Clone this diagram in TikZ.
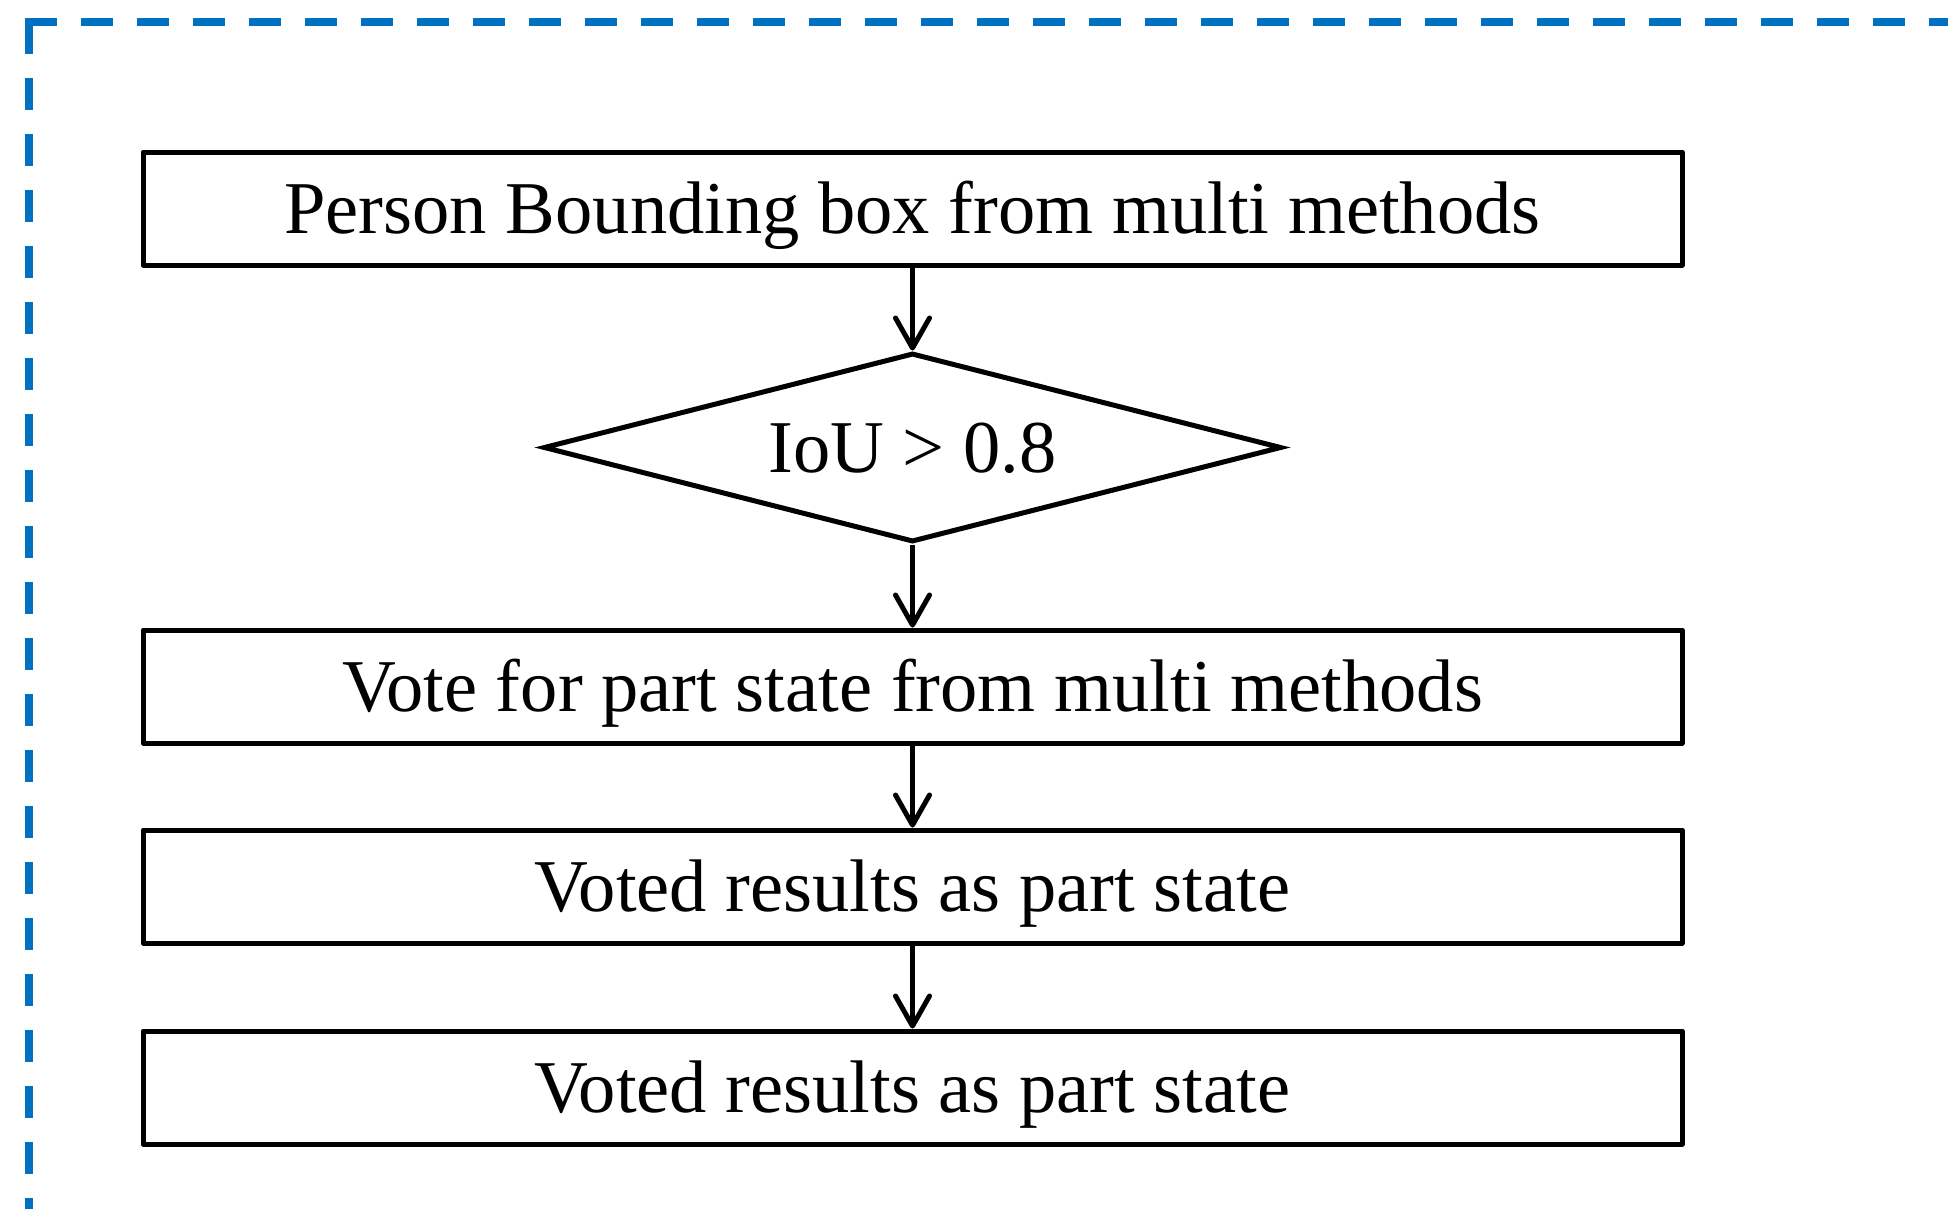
\documentclass[tikz,border=0pt]{standalone}
\usepackage{fontspec}
\setmainfont{Liberation Serif}
\usetikzlibrary{arrows.meta,shapes.geometric}
\definecolor{frameblue}{HTML}{0070C0}
\tikzset{
  stepbox/.style={draw, line width=5pt, line join=round, minimum width=1539pt, minimum height=113pt, inner sep=0pt, text height=49pt, text depth=0pt, font=\fontsize{74.5}{90}\selectfont},
  decision/.style={draw, diamond, line width=5pt, line join=miter, aspect=3.9, minimum width=738pt, minimum height=189pt, inner sep=0pt, text height=49pt, text depth=0pt, font=\fontsize{74.5}{90}\selectfont},
  flow/.style={line width=5pt, -{Straight Barb[length=30pt,width=34pt,round]}},
  frame/.style={draw=frameblue, line width=8pt, dash pattern=on 32pt off 24pt}
}
\begin{document}
\begin{tikzpicture}[x=1pt,y=-1pt]
\useasboundingbox (0,0) rectangle (1948,1208);
\begin{scope}
\clip (0,0) rectangle (1948,1208);
\coordinate (fc) at (28.5,22);
\coordinate (fr) at (2000,22);
\coordinate (fb) at (28.5,1300);
\draw[frame] (24.5,22) -- (fr);
\draw[frame] (fc) -- (fb);
\end{scope}
\node[stepbox] (b1) at (912.5,208.5) {Person Bounding box from multi methods};
\node[decision] (d) at (912.5,447.5) {IoU > 0.8};
\node[stepbox] (b2) at (912.5,686.5) {Vote for part state from multi methods};
\node[stepbox] (b3) at (912.5,886.5) {Voted results as part state};
\node[stepbox] (b4) at (912.5,1087.5) {Voted results as part state};
\draw[flow] (b1) -- (d.north);
\draw[flow] (d) -- (b2.north);
\draw[flow] (b2) -- (b3.north);
\draw[flow] (b3) -- (b4.north);
\end{tikzpicture}
\end{document}
